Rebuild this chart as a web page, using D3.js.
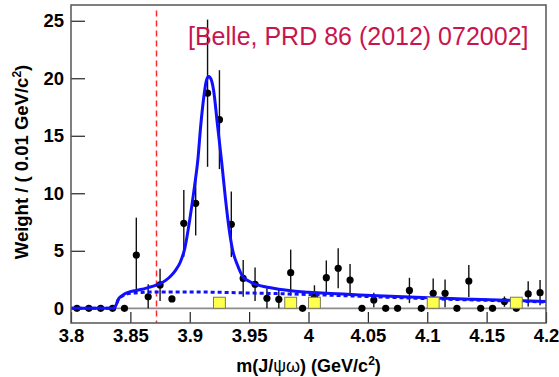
<!DOCTYPE html>
<html>
<head>
<meta charset="utf-8">
<script src="https://cdn.jsdelivr.net/npm/d3@7"></script>
<style>
  body { margin: 0; background: #fff; }
  svg { display: block; }
  text { font-family: "Liberation Sans", Arial, Helvetica, sans-serif; }
</style>
</head>
<body>
<svg id="chart" width="559" height="377"></svg>
<script>

// data (weights per 0.01 GeV bin)
var binCenters = [3.805, 3.815, 3.825, 3.835, 3.845, 3.855, 3.865, 3.875, 3.885, 3.895,
		  3.905, 3.915, 3.925, 3.935, 3.945, 3.955, 3.965, 3.975, 3.985, 3.995,
		  4.005, 4.015, 4.025, 4.035, 4.045, 4.055, 4.065, 4.075, 4.085, 4.095,
		  4.105, 4.115, 4.125, 4.135, 4.145, 4.155, 4.165, 4.175, 4.185, 4.195];
var weights = [0, 0, 0, 0, 0, 4.63, 1.0, 2.03, 0.81, 7.39,
	       9.13, 18.7, 16.4, 7.3, 2.6, 2.09, 0.87, 0.78, 3.1, 0,
	       1.05, 2.66, 3.48, 2.46, 0, 0.72, 0, 0, 1.55, 0,
	       1.3, 1.3, 0, 2.37, 0, 0, 0.58, 0, 1.25, 1.36];
var errors = [0, 0, 0, 0, 0, 3.25, 1.1, 1.4, 0.25, 2.9,
	      2.8, 6.4, 4.3, 2.85, 1.6, 1.45, 0.87, 0.8, 2.0, 0,
	      0.95, 1.5, 1.74, 1.4, 0, 0.62, 0, 0, 1.1, 0,
	      1.3, 1.2, 0, 1.4, 0, 0, 0.45, 0, 1.1, 1.1];

// yellow histogram (bins with content)
var sideBins = [3.925, 3.985, 4.005, 4.105, 4.175];
var sideValues = [0.96, 0.96, 0.96, 0.96, 0.96];

// fit curves, sampled from the figure
var fitMass = [3.800, 3.836, 3.838, 3.840, 3.843, 3.846, 3.850, 3.855, 3.860, 3.865,
	       3.870, 3.875, 3.880, 3.884, 3.888, 3.892, 3.896, 3.900, 3.904, 3.907,
	       3.909, 3.912, 3.914, 3.916, 3.918, 3.920, 3.9235, 3.927, 3.930, 3.933,
	       3.936, 3.940, 3.945, 3.950, 3.955, 3.960, 3.967, 3.975, 3.987, 4.000,
	       4.015, 4.043, 4.085, 4.120, 4.160, 4.200];
var fitTotal = [0, 0, 0.3, 0.8, 1.1, 1.3, 1.45, 1.55, 1.65, 1.8,
		1.95, 2.15, 2.45, 2.8, 3.3, 4.0, 5.3, 7.7, 10.6, 13.1,
		15.6, 18.5, 19.8, 20.15, 19.9, 19.0, 15.8, 12.6, 9.6, 7.0,
		5.1, 3.8, 2.7, 2.35, 2.1, 1.95, 1.8, 1.65, 1.5, 1.4,
		1.3, 1.16, 0.97, 0.85, 0.72, 0.6];
var bkgMass = [3.800, 3.836, 3.838, 3.840, 3.843, 3.846, 3.850, 3.860, 3.870, 3.900,
	       3.950, 4.000, 4.050, 4.100, 4.150, 4.200];
var bkgValues = [0, 0, 0.3, 0.8, 1.05, 1.2, 1.3, 1.38, 1.42, 1.42,
		 1.33, 1.2, 1.02, 0.84, 0.69, 0.55];

var threshold = 3.872; // D D* threshold marker

var xMajorTicks = [3.8, 3.85, 3.9, 3.95, 4.0, 4.05, 4.1, 4.15, 4.2];
var xTickLabels = ["3.8", "3.85", "3.9", "3.95", "4", "4.05", "4.1", "4.15", "4.2"];
var yMajorTicks = [0, 5, 10, 15, 20, 25];
var yTickLabels = ["0", "5", "10", "15", "20", "25"];


var svg = d3.select("#chart");

var frame = {left: 71, right: 546, top: 5, bottom: 323};

var x = d3.scaleLinear().domain([3.8, 4.2]).range([frame.left, frame.right]);
var y = d3.scaleLinear().domain([-1.28, 26.37]).range([frame.bottom, frame.top]);

// minor ticks
var xMinor = d3.range(0, 41).map(function(i){ return +(3.8 + i * 0.01).toFixed(2); });
var yMinor = d3.range(-1, 27);

// axes - ticks point inward like ROOT
var gx = svg.append("g").attr("transform", "translate(0," + frame.bottom + ")");
gx.call(d3.axisBottom(x).tickValues(xMinor).tickSize(-5.5).tickFormat(""));
gx.call(d3.axisBottom(x).tickValues(xMajorTicks).tickSize(-11).tickPadding(6)
	.tickFormat(function(d, i){ return xTickLabels[i]; }));

var gy = svg.append("g").attr("transform", "translate(" + frame.left + ",0)");
gy.call(d3.axisLeft(y).tickValues(yMinor).tickSize(-7).tickFormat(""));
gy.call(d3.axisLeft(y).tickValues(yMajorTicks).tickSize(-14).tickPadding(7)
	.tickFormat(function(d, i){ return yTickLabels[i]; }));

svg.selectAll(".domain").remove();
svg.selectAll(".tick line").attr("stroke", "#222").attr("stroke-width", 1.2);
svg.selectAll(".tick text").attr("fill", "#000")
    .style("font-size", "18.5px").style("font-weight", "bold")
    .style("font-family", "'Liberation Sans', Arial, sans-serif");

// zero line
svg.append("line")
    .attr("x1", frame.left).attr("x2", frame.right)
    .attr("y1", y(0)).attr("y2", y(0))
    .attr("stroke", "#8c8c8c").attr("stroke-width", 1.8);

// threshold line
svg.append("line")
    .attr("x1", x(threshold)).attr("x2", x(threshold))
    .attr("y1", y(25.9)).attr("y2", frame.bottom)
    .attr("stroke", "#ff2a2a").attr("stroke-width", 1.5)
    .attr("stroke-dasharray", "6,4");

// data points with error bars
var pts = binCenters.map(function(m, i){ return {m: m, w: weights[i], e: errors[i]}; });

svg.selectAll(".ebar").data(pts.filter(function(d){ return d.e > 0; }))
    .enter().append("line").attr("class", "ebar")
    .attr("x1", function(d){ return x(d.m); })
    .attr("x2", function(d){ return x(d.m); })
    .attr("y1", function(d){ return y(d.w + d.e); })
    .attr("y2", function(d){ return y(Math.max(d.w - d.e, 0)); })
    .attr("stroke", "#111").attr("stroke-width", 1.4);

svg.selectAll(".pt").data(pts)
    .enter().append("circle").attr("class", "pt")
    .attr("cx", function(d){ return x(d.m); })
    .attr("cy", function(d){ return y(d.w); })
    .attr("r", 3.6)
    .attr("fill", "#000");

// fit curves
var fitLine = d3.line()
    .x(function(d){ return x(d[0]); })
    .y(function(d){ return y(d[1]); })
    .curve(d3.curveMonotoneX);

svg.append("path")
    .datum(bkgMass.map(function(m, i){ return [m, bkgValues[i]]; }))
    .attr("d", fitLine)
    .attr("fill", "none").attr("stroke", "#1010ff").attr("stroke-width", 3)
    .attr("stroke-dasharray", "4,3");

svg.append("path")
    .datum(fitMass.map(function(m, i){ return [m, fitTotal[i]]; }))
    .attr("d", fitLine)
    .attr("fill", "none").attr("stroke", "#1010ff").attr("stroke-width", 3)
    .attr("stroke-linejoin", "round");

// yellow boxes, drawn last (they sit over points & curve)
svg.selectAll(".side").data(sideBins)
    .enter().append("rect").attr("class", "side")
    .attr("x", function(d){ return x(d - 0.005); })
    .attr("width", function(d){ return x(d + 0.005) - x(d - 0.005); })
    .attr("y", function(d, i){ return y(sideValues[i]); })
    .attr("height", function(d, i){ return y(0) - y(sideValues[i]); })
    .attr("fill", "#ffff4d").attr("stroke", "#7a7a5a").attr("stroke-width", 1);

// frame
svg.append("rect")
    .attr("x", frame.left).attr("y", frame.top)
    .attr("width", frame.right - frame.left).attr("height", frame.bottom - frame.top)
    .attr("fill", "none").attr("stroke", "#555").attr("stroke-width", 1.5);

// reference text
svg.append("text")
    .attr("x", 188).attr("y", 45)
    .attr("fill", "#c8154f")
    .style("font-size", "25px")
    .text("[Belle, PRD 86 (2012) 072002]");

// axis titles
var xt = svg.append("text")
    .attr("x", (frame.left + frame.right) / 2).attr("y", 372)
    .attr("text-anchor", "middle")
    .style("font-size", "18px").style("font-weight", "bold");
xt.append("tspan").text("m(J/");
xt.append("tspan").style("font-weight", "normal").text("ψω");
xt.append("tspan").text(") (GeV/c");
xt.append("tspan").attr("dy", -7).style("font-size", "12px").text("2");
xt.append("tspan").attr("dy", 7).text(")");

var yt = svg.append("text")
    .attr("transform", "translate(28,162) rotate(-90)")
    .attr("text-anchor", "middle")
    .style("font-size", "18.5px").style("font-weight", "bold");
yt.append("tspan").text("Weight / ( 0.01 GeV/c");
yt.append("tspan").attr("dy", -7).style("font-size", "12px").text("2");
yt.append("tspan").attr("dy", 7).text(")");

</script>
</body>
</html>
